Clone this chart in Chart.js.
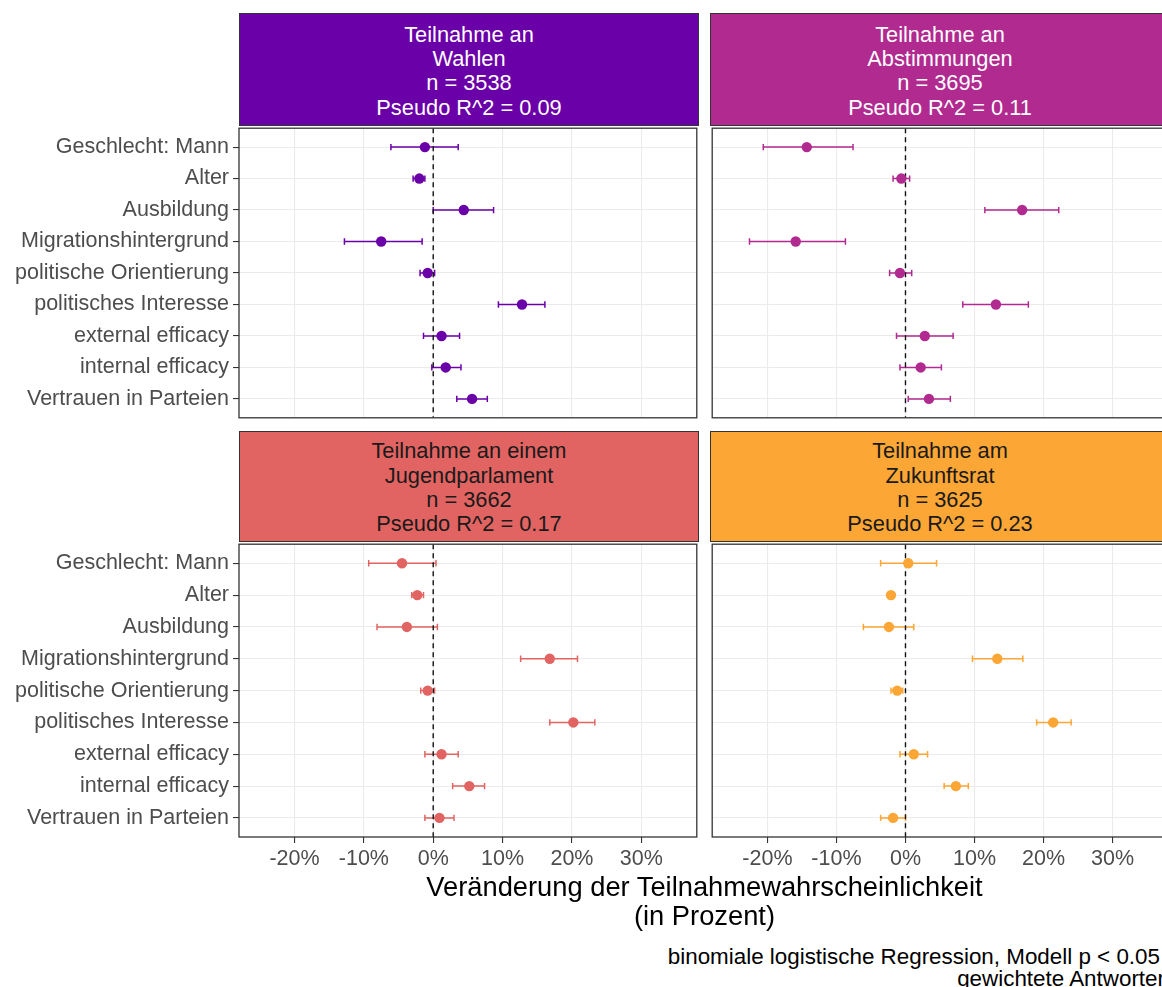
<!DOCTYPE html>
<html>
<head>
<meta charset="utf-8">
<script src="https://cdn.jsdelivr.net/npm/chart.js@4"></script>
<style>
  html, body { margin: 0; padding: 0; background: #fff; }
  body { width: 1162px; height: 987px; overflow: hidden; position: relative;
         font-family: "Liberation Sans", Arial, sans-serif; }
  .box { position: absolute; }
  .strip { position: absolute; box-sizing: border-box; border: 1.3px solid #333;
           display: flex; flex-direction: column; justify-content: center; align-items: center;
           font-size: 21.8px; line-height: 24.3px; text-align: center; padding-top: 4px; }
  .title { position: absolute; left: 239px; width: 931px; text-align: center;
           font-size: 27.3px; line-height: 29px; color: #000; }
  .cap { position: absolute; font-size: 22.4px; line-height: 22px; color: #000; white-space: nowrap; }
</style>
</head>
<body>
<script>
// categories, top to bottom
var categories = ["Geschlecht: Mann", "Alter", "Ausbildung", "Migrationshintergrund",
  "politische Orientierung", "politisches Interesse", "external efficacy",
  "internal efficacy", "Vertrauen in Parteien"];
var xTicks = [-20, -10, 0, 10, 20, 30];

// Teilnahme an Wahlen
var wahlenEst = [-1.2, -2.0, 4.4, -7.5, -0.8, 12.8, 1.2, 1.8, 5.6];
var wahlenLo  = [-6.1, -2.9, 0.0, -12.8, -1.9, 9.4, -1.4, -0.2, 3.4];
var wahlenHi  = [3.6, -1.2, 8.7, -1.6, 0.2, 16.1, 3.8, 4.0, 7.8];

// Teilnahme an Abstimmungen
var abstEst = [-14.3, -0.6, 16.9, -15.9, -0.8, 13.1, 2.8, 2.2, 3.4];
var abstLo  = [-20.6, -1.8, 11.5, -22.6, -2.3, 8.3, -1.3, -0.8, 0.4];
var abstHi  = [-7.6, 0.6, 22.2, -8.7, 0.9, 17.8, 6.9, 5.2, 6.5];

// Teilnahme an einem Jugendparlament
var jugendEst = [-4.5, -2.3, -3.8, 16.8, -0.8, 20.2, 1.2, 5.2, 0.9];
var jugendLo  = [-9.3, -3.1, -8.1, 12.6, -1.8, 16.8, -1.2, 2.8, -1.2];
var jugendHi  = [0.4, -1.4, 0.6, 20.8, 0.2, 23.3, 3.6, 7.4, 3.0];

// Teilnahme am Zukunftsrat
var zukunftEst = [0.4, -2.1, -2.4, 13.3, -1.2, 21.4, 1.2, 7.3, -1.8];
var zukunftLo  = [-3.6, -2.5, -6.1, 9.7, -2.1, 19.0, -0.8, 5.6, -3.6];
var zukunftHi  = [4.5, -1.7, 1.2, 17.0, -0.4, 24.0, 3.2, 9.1, 0.0];

var FONT = "'Liberation Sans', Arial, sans-serif";

// whiskers with caps, drawn under the points
var errorBars = {
  id: "errorBars",
  beforeDatasetsDraw: function(chart, args, opts) {
    var ctx = chart.ctx, x = chart.scales.x, y = chart.scales.y;
    ctx.save();
    ctx.strokeStyle = opts.color;
    ctx.lineWidth = 1.5;
    opts.lo.forEach(function(lo, i) {
      var x0 = x.getPixelForValue(lo), x1 = x.getPixelForValue(opts.hi[i]);
      var yc = y.getPixelForValue(i), ya = y.getPixelForValue(i - 0.1), yb = y.getPixelForValue(i + 0.1);
      ctx.beginPath();
      ctx.moveTo(x0, yc); ctx.lineTo(x1, yc);
      ctx.moveTo(x0, ya); ctx.lineTo(x0, yb);
      ctx.moveTo(x1, ya); ctx.lineTo(x1, yb);
      ctx.stroke();
    });
    ctx.restore();
  }
};

// panel border
var frame = {
  id: "frame",
  afterDraw: function(chart) {
    var a = chart.chartArea, ctx = chart.ctx;
    ctx.save();
    ctx.strokeStyle = "#333";
    ctx.lineWidth = 1.3;
    ctx.strokeRect(a.left, a.top, a.right - a.left, a.bottom - a.top);
    ctx.restore();
  }
};

function addDiv(cls, css, html) {
  var d = document.createElement("div");
  d.className = cls;
  Object.keys(css).forEach(function(k) { d.style[k] = css[k]; });
  if (html) d.innerHTML = html;
  document.body.appendChild(d);
  return d;
}

function makePanel(p) {
  var pad = 3;
  var yW = p.showY ? 239 : 0;
  var xH = p.showX ? 42 : 0;
  // strip header
  addDiv("strip", {
    left: p.left + "px", top: p.stripTop + "px", width: p.width + "px",
    height: (p.plotTop - p.stripTop) + "px", background: p.color, color: p.textColor
  }, p.title);

  var boxLeft = p.left - yW - (p.showY ? 0 : pad);
  var box = addDiv("box", {
    left: boxLeft + "px", top: (p.plotTop - pad) + "px",
    width: (p.left + p.width + pad - boxLeft) + "px",
    height: (p.plotH + pad + xH + (p.showX ? 0 : pad)) + "px"
  });
  var canvas = document.createElement("canvas");
  box.appendChild(canvas);

  var points = p.est.map(function(v, i) { return { x: v, y: i }; });

  new Chart(canvas, {
    type: "scatter",
    data: {
      datasets: [
        { data: points, backgroundColor: p.color, borderColor: p.color, pointRadius: 5.2, pointHoverRadius: 5.2, borderWidth: 0 },
        { data: [{ x: 0, y: -0.6 }, { x: 0, y: 8.6 }], showLine: true, borderColor: "#111",
          borderWidth: 1.4, borderDash: [5, 4], pointRadius: 0 }
      ]
    },
    options: {
      responsive: true,
      maintainAspectRatio: false,
      animation: false,
      events: [],
      layout: { padding: { top: pad, right: pad, left: p.showY ? 0 : pad, bottom: p.showX ? 0 : pad } },
      plugins: {
        legend: { display: false },
        tooltip: { enabled: false },
        errorBars: { lo: p.lo, hi: p.hi, color: p.color }
      },
      scales: {
        x: {
          type: "linear", min: -28, max: 38,
          afterBuildTicks: function(s) { s.ticks = xTicks.map(function(v) { return { value: v }; }); },
          afterFit: function(s) { s.height = xH; s.paddingLeft = 0; s.paddingRight = 0; },
          border: { display: false },
          grid: { color: "#ebebeb", lineWidth: 1.1, drawTicks: p.showX, tickLength: 6, tickColor: "#333" },
          ticks: { display: p.showX, padding: 3, color: "#4d4d4d", maxRotation: 0, autoSkip: false,
                   font: { family: FONT, size: 21.5 },
                   callback: function(v) { return v + "%"; } }
        },
        y: {
          type: "linear", min: -0.6, max: 8.6, reverse: true,
          afterBuildTicks: function(s) { s.ticks = categories.map(function(c, i) { return { value: i }; }); },
          afterFit: function(s) { s.width = yW; s.paddingTop = 0; s.paddingBottom = 0; },
          border: { display: false },
          grid: { color: "#ebebeb", lineWidth: 1.1, drawTicks: p.showY, tickLength: 6, tickColor: "#333" },
          ticks: { display: p.showY, padding: 4, color: "#4d4d4d", autoSkip: false,
                   font: { family: FONT, size: 21.5 },
                   callback: function(v) { return categories[v]; } }
        }
      }
    },
    plugins: [errorBars, frame]
  });
}

makePanel({ left: 239, width: 460, stripTop: 12.5, plotTop: 126, plotH: 294, showY: true, showX: false,
  color: "#6a00a8", textColor: "#fff", title: "Teilnahme an<br>Wahlen<br>n = 3538<br>Pseudo R^2 = 0.09",
  est: wahlenEst, lo: wahlenLo, hi: wahlenHi });
makePanel({ left: 710, width: 460, stripTop: 12.5, plotTop: 126, plotH: 294, showY: false, showX: false,
  color: "#b12a90", textColor: "#fff", title: "Teilnahme an<br>Abstimmungen<br>n = 3695<br>Pseudo R^2 = 0.11",
  est: abstEst, lo: abstLo, hi: abstHi });
makePanel({ left: 239, width: 460, stripTop: 430.5, plotTop: 541.5, plotH: 295, showY: true, showX: true,
  color: "#e16462", textColor: "#1a1a1a", title: "Teilnahme an einem<br>Jugendparlament<br>n = 3662<br>Pseudo R^2 = 0.17",
  est: jugendEst, lo: jugendLo, hi: jugendHi });
makePanel({ left: 710, width: 460, stripTop: 430.5, plotTop: 541.5, plotH: 295, showY: false, showX: true,
  color: "#fca636", textColor: "#1a1a1a", title: "Teilnahme am<br>Zukunftsrat<br>n = 3625<br>Pseudo R^2 = 0.23",
  est: zukunftEst, lo: zukunftLo, hi: zukunftHi });

addDiv("title", { top: "872px" }, "Veränderung der Teilnahmewahrscheinlichkeit<br>(in Prozent)");
addDiv("cap", { top: "946px", right: "2px" }, "binomiale logistische Regression, Modell p &lt; 0.05");
addDiv("cap", { top: "968px", right: "-8px" }, "gewichtete Antworten");
</script>
</body>
</html>
